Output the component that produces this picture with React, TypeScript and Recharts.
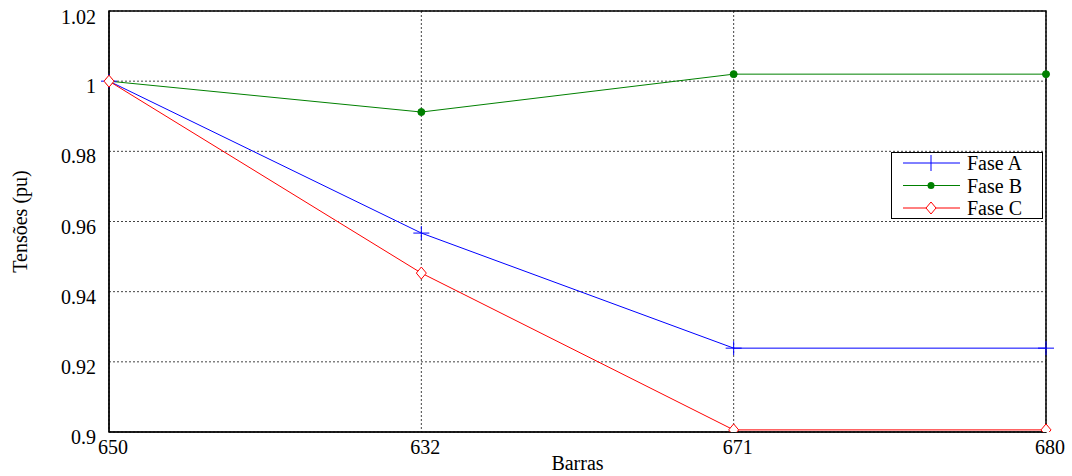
import React from 'react'
import {
  LineChart, Line, XAxis, YAxis, CartesianGrid, ReferenceArea,
} from 'recharts'

const BARRAS = ['650', '632', '671', '680']
const FASE_A = [1.0, 0.9567, 0.9239, 0.9239]
const FASE_B = [1.0, 0.9912, 1.002, 1.002]
const FASE_C = [1.0, 0.9453, 0.9006, 0.9006]
const Y_TICKS = [0.9, 0.92, 0.94, 0.96, 0.98, 1, 1.02]

const BLUE = '#0000ff'
const GREEN = '#008000'
const RED = '#ff0000'
const FONT = 'Liberation Serif, Times New Roman, Times, serif'
const txt = { fontSize: 20, fontFamily: FONT, fill: '#000' }

const data = BARRAS.map((b, i) => ({ i, a: FASE_A[i], b: FASE_B[i], c: FASE_C[i] }))

const PlusDot = (p: any) => {
  const { cx, cy } = p
  if (cx == null || cy == null) return null
  return (
    <g key={p.key ?? `${cx}-${cy}`}>
      <line x1={cx - 8} x2={cx + 8} y1={cy} y2={cy} stroke={BLUE} strokeWidth={1} />
      <line x1={cx} x2={cx} y1={cy - 7} y2={cy + 7} stroke={BLUE} strokeWidth={1} />
    </g>
  )
}

const DiamondDot = (p: any) => {
  const { cx, cy } = p
  if (cx == null || cy == null) return null
  return (
    <path key={p.key ?? `${cx}-${cy}`} d={`M${cx},${cy - 6}L${cx + 5},${cy}L${cx},${cy + 6}L${cx - 5},${cy}Z`}
      fill="#fff" stroke={RED} strokeWidth={1} />
  )
}

function LegendBox() {
  const rows = [
    { name: 'Fase A', color: BLUE, kind: 'plus' },
    { name: 'Fase B', color: GREEN, kind: 'dot' },
    { name: 'Fase C', color: RED, kind: 'diamond' },
  ]
  return (
    <svg width={153} height={68} style={{ display: 'block' }}>
      <rect x={0.5} y={0.5} width={151} height={66} fill="#fff" stroke="#000" />
      {rows.map((r, k) => {
        const y = 11 + k * 22.5
        return (
          <g key={r.name}>
            <line x1={12} x2={69} y1={y} y2={y} stroke={r.color} />
            {r.kind === 'plus' && <line x1={40} x2={40} y1={y - 8} y2={y + 8} stroke={r.color} />}
            {r.kind === 'dot' && <circle cx={40} cy={y} r={3.5} fill={r.color} />}
            {r.kind === 'diamond' && (
              <path d={`M40,${y - 6}L45,${y}L40,${y + 6}L35,${y}Z`} fill="#fff" stroke={r.color} />
            )}
            <text x={76} y={y + 7} style={txt}>{r.name}</text>
          </g>
        )
      })}
    </svg>
  )
}

export default function App() {
  return (
    <div style={{ position: 'absolute', left: 0, top: 0, width: 1072, height: 476, background: '#fff', fontFamily: FONT }}>
      <LineChart width={1072} height={476} data={data} margin={{ top: 11, right: 26, left: 10, bottom: 4 }}>
        <CartesianGrid stroke="#444" strokeDasharray="2 2" />
        <XAxis
          type="number" dataKey="i" domain={[0, 3]} ticks={[0, 1, 2, 3]}
          tickFormatter={(v: number) => BARRAS[v]}
          height={40} tickSize={0} tickMargin={8} stroke="#000"
          tick={{ ...txt, style: txt, dx: 4 }}
          label={{ value: 'Barras', position: 'insideBottom', offset: 2, style: txt }}
        />
        <YAxis
          type="number" domain={[0.9, 1.02]} ticks={Y_TICKS} allowDataOverflow
          width={99} tickSize={0} tickMargin={13} stroke="#000"
          tickFormatter={(v: number) => String(Number(v.toFixed(2)))}
          tick={{ ...txt, style: txt, dy: 5 }}
          label={{ value: 'Tensões (pu)', angle: -90, position: 'insideLeft', offset: 10, style: { ...txt, textAnchor: 'middle' } }}
        />
        <ReferenceArea x1={0} x2={3} y1={0.9} y2={1.02} fill="none" stroke="#000" strokeWidth={1.5} ifOverflow="visible" />
        <Line dataKey="a" stroke={BLUE} strokeWidth={1} dot={PlusDot} isAnimationActive={false} />
        <Line dataKey="b" stroke={GREEN} strokeWidth={1} dot={{ r: 3.5, fill: GREEN, stroke: GREEN }} isAnimationActive={false} />
        <Line dataKey="c" stroke={RED} strokeWidth={1} dot={DiamondDot} isAnimationActive={false} />
      </LineChart>
      <div style={{ position: 'absolute', left: 891, top: 152 }}>
        <LegendBox />
      </div>
    </div>
  )
}
